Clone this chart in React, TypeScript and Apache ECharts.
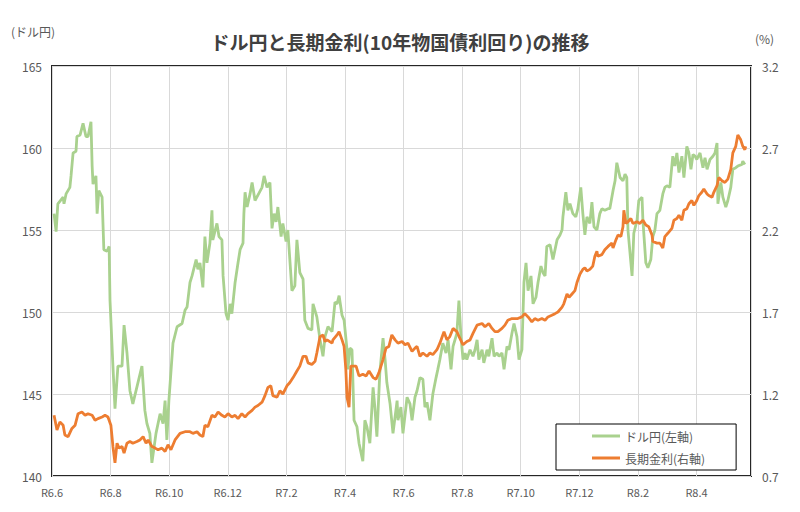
import React, { useEffect, useRef } from "react";
import * as echarts from "echarts";

// x values: months elapsed since R6.6 (June 2024)
const monthLabels = ["R6.6", "R6.8", "R6.10", "R6.12", "R7.2", "R7.4", "R7.6", "R7.8", "R7.10", "R7.12", "R8.2", "R8.4"];
const yenTicks = [140, 145, 150, 155, 160, 165];
const rateTicks = [0.7, 1.2, 1.7, 2.2, 2.7, 3.2];

const usdMonths = [
  0.07, 0.14, 0.2, 0.38, 0.41, 0.48, 0.61, 0.65, 0.72, 0.82, 0.85, 0.96, 1.06, 1.16, 1.23, 1.33, 1.37, 1.4, 1.5, 1.54,
  1.6, 1.71, 1.77, 1.88, 1.95, 1.98, 2.08, 2.15, 2.25, 2.39, 2.46, 2.56, 2.66, 2.76, 3.07, 3.17, 3.24, 3.34, 3.41, 3.55,
  3.69, 3.79, 3.86, 3.92, 3.99, 4.13, 4.27, 4.44, 4.54, 4.61, 4.71, 4.78, 4.92, 4.98, 5.05, 5.15, 5.22, 5.29, 5.39, 5.46,
  5.49, 5.63, 5.7, 5.8, 5.84, 5.94, 6.01, 6.08, 6.14, 6.25, 6.35, 6.42, 6.52, 6.55, 6.59, 6.66, 6.76, 6.83, 6.93, 7.17,
  7.24, 7.34, 7.44, 7.51, 7.58, 7.65, 7.71, 7.82, 7.88, 7.99, 8.05, 8.19, 8.29, 8.36, 8.46, 8.57, 8.63, 8.74, 8.87, 8.91,
  9.04, 9.15, 9.25, 9.32, 9.42, 9.56, 9.66, 9.73, 9.8, 9.9, 9.97, 10.07, 10.1, 10.17, 10.24, 10.31, 10.41, 10.48, 10.61, 10.68,
  10.75, 10.85, 10.96, 11.02, 11.09, 11.19, 11.3, 11.37, 11.43, 11.54, 11.64, 11.78, 11.81, 11.91, 11.98, 12.12, 12.22, 12.29, 12.39, 12.46,
  12.56, 12.66, 12.73, 12.8, 12.9, 13.0, 13.11, 13.17, 13.24, 13.34, 13.45, 13.52, 13.62, 13.69, 13.82, 13.89, 13.96, 14.03, 14.1, 14.16,
  14.27, 14.37, 14.44, 14.51, 14.57, 14.68, 14.74, 14.85, 14.91, 15.02, 15.09, 15.19, 15.26, 15.36, 15.43, 15.53, 15.6, 15.7, 15.77, 15.87,
  15.94, 16.04, 16.11, 16.18, 16.25, 16.35, 16.42, 16.52, 16.59, 16.69, 16.76, 16.83, 16.89, 17.0, 17.1, 17.17, 17.24, 17.34, 17.41, 17.44,
  17.54, 17.61, 17.68, 17.78, 17.88, 17.95, 18.05, 18.12, 18.19, 18.26, 18.36, 18.43, 18.5, 18.6, 18.7, 18.77, 18.87, 18.98, 19.04, 19.15,
  19.22, 19.28, 19.39, 19.49, 19.56, 19.62, 19.66, 19.73, 19.8, 19.86, 19.97, 20.03, 20.14, 20.17, 20.27, 20.34, 20.44, 20.51, 20.58, 20.65,
  20.75, 20.85, 20.92, 20.99, 21.09, 21.19, 21.26, 21.33, 21.4, 21.5, 21.57, 21.67, 21.74, 21.81, 21.88, 21.95, 22.01, 22.12, 22.22, 22.29,
  22.36, 22.46, 22.56, 22.63, 22.7, 22.73, 22.83, 22.9, 23.0, 23.07, 23.17, 23.24, 23.34, 23.41, 23.55, 23.58, 23.65,
];
const usdValues = [
  156.0, 154.9, 156.6, 157.0, 156.6, 157.2, 157.6, 158.3, 159.7, 159.8, 160.7, 160.8, 161.5, 160.7, 160.7, 161.6, 158.9, 157.8, 158.3, 156.0,
  157.4, 157.0, 153.8, 153.7, 154.0, 150.7, 146.7, 144.1, 146.7, 146.7, 149.2, 147.5, 145.2, 144.4, 146.7, 144.0, 143.2, 142.6, 140.8, 142.6,
  143.8, 143.2, 144.6, 142.2, 144.6, 148.1, 149.1, 149.3, 150.1, 150.3, 151.8, 152.2, 153.2, 152.6, 153.0, 151.5, 154.6, 153.0, 154.2, 156.2,
  154.4, 155.4, 154.6, 154.4, 152.2, 149.9, 149.5, 150.5, 149.9, 151.8, 153.0, 153.8, 154.2, 156.0, 157.3, 156.4, 157.2, 157.9, 156.8, 157.6,
  158.3, 157.6, 157.9, 155.1, 156.0, 155.5, 156.4, 154.6, 155.4, 154.3, 155.0, 151.3, 151.6, 154.4, 152.4, 152.0, 149.5, 149.0, 148.9, 150.5,
  149.7, 148.3, 147.3, 148.5, 149.1, 148.8, 150.6, 150.5, 151.0, 149.8, 149.5, 147.7, 146.5, 147.8, 147.7, 143.4, 143.0, 142.0, 140.9, 143.4,
  143.0, 142.0, 145.4, 144.2, 142.4, 146.3, 148.4, 147.1, 145.7, 144.4, 142.6, 144.6, 143.4, 144.2, 142.6, 144.8, 144.4, 143.4, 144.8, 145.2,
  146.0, 145.9, 144.2, 144.5, 143.4, 145.0, 146.0, 146.5, 147.1, 148.1, 147.5, 148.3, 146.5, 147.9, 148.7, 150.7, 148.5, 147.1, 147.5, 147.1,
  147.7, 147.3, 147.7, 148.3, 147.1, 147.7, 146.9, 147.7, 147.3, 148.4, 147.3, 147.5, 147.3, 147.5, 146.5, 147.9, 147.7, 148.7, 149.3, 148.5,
  147.1, 147.7, 151.8, 153.0, 151.3, 152.2, 150.5, 150.9, 151.8, 152.8, 152.4, 152.2, 154.0, 154.1, 153.2, 153.8, 154.4, 154.7, 155.0, 155.8,
  157.3, 156.2, 156.6, 156.0, 155.8, 156.3, 157.6, 156.0, 154.7, 155.8, 155.4, 156.7, 155.2, 155.0, 156.0, 156.3, 156.2, 156.3, 156.3, 157.4,
  158.0, 159.1, 158.2, 158.0, 158.4, 158.2, 155.0, 153.6, 152.2, 154.8, 155.6, 156.8, 157.0, 155.6, 153.0, 152.7, 153.2, 154.6, 155.0, 156.0,
  156.2, 157.2, 157.6, 157.7, 157.6, 159.5, 158.9, 159.7, 158.5, 159.5, 158.2, 160.1, 159.7, 158.7, 159.6, 159.5, 159.3, 159.7, 158.8, 159.4,
  158.7, 159.3, 159.5, 159.7, 160.3, 156.6, 157.9, 157.0, 156.4, 156.8, 157.6, 158.7, 158.8, 158.9, 159.0, 159.2, 159.0,
];

const jgbMonths = [
  0.07, 0.17, 0.27, 0.38, 0.44, 0.55, 0.68, 0.79, 0.89, 1.02, 1.13, 1.23, 1.37, 1.47, 1.57, 1.71, 1.81, 1.91, 2.01, 2.08,
  2.15, 2.22, 2.29, 2.39, 2.46, 2.56, 2.66, 2.76, 2.9, 3.0, 3.11, 3.21, 3.28, 3.41, 3.52, 3.62, 3.75, 3.86, 3.96, 4.06,
  4.2, 4.37, 4.54, 4.71, 4.81, 4.95, 5.05, 5.15, 5.22, 5.32, 5.46, 5.56, 5.67, 5.8, 5.9, 6.01, 6.14, 6.25, 6.35, 6.48,
  6.59, 6.69, 6.83, 6.93, 7.03, 7.17, 7.27, 7.37, 7.47, 7.54, 7.68, 7.78, 7.88, 8.02, 8.12, 8.23, 8.36, 8.46, 8.57, 8.67,
  8.74, 8.87, 8.98, 9.04, 9.15, 9.25, 9.32, 9.39, 9.56, 9.59, 9.73, 9.8, 9.9, 9.97, 10.03, 10.07, 10.14, 10.2, 10.27, 10.38,
  10.48, 10.61, 10.72, 10.82, 10.96, 11.06, 11.16, 11.3, 11.4, 11.5, 11.6, 11.71, 11.81, 11.95, 12.05, 12.15, 12.29, 12.39, 12.46, 12.56,
  12.66, 12.8, 12.9, 13.0, 13.14, 13.24, 13.38, 13.48, 13.58, 13.69, 13.82, 13.92, 14.03, 14.16, 14.27, 14.37, 14.51, 14.68, 14.78, 14.91,
  15.02, 15.12, 15.22, 15.36, 15.46, 15.56, 15.7, 15.8, 15.9, 16.04, 16.14, 16.25, 16.38, 16.48, 16.59, 16.72, 16.83, 16.93, 17.06, 17.17,
  17.27, 17.41, 17.47, 17.58, 17.65, 17.75, 17.85, 17.92, 18.02, 18.12, 18.19, 18.26, 18.36, 18.46, 18.53, 18.6, 18.63, 18.77, 18.87, 18.98,
  19.11, 19.15, 19.25, 19.32, 19.42, 19.49, 19.52, 19.59, 19.66, 19.76, 19.83, 19.97, 20.07, 20.17, 20.27, 20.37, 20.48, 20.51, 20.65, 20.75,
  20.85, 20.92, 21.02, 21.16, 21.23, 21.33, 21.4, 21.5, 21.57, 21.67, 21.74, 21.84, 21.91, 22.01, 22.08, 22.18, 22.25, 22.36, 22.42, 22.53,
  22.59, 22.7, 22.76, 22.87, 22.97, 23.07, 23.17, 23.24, 23.34, 23.41, 23.51, 23.58, 23.65, 23.68,
];
const jgbValues = [
  1.07, 0.98, 1.03, 1.01, 0.95, 0.94, 0.99, 1.01, 1.08, 1.09, 1.07, 1.08, 1.07, 1.04, 1.05, 1.06, 1.07, 1.06, 1.01, 0.88,
  0.78, 0.9, 0.87, 0.88, 0.84, 0.9, 0.91, 0.9, 0.91, 0.92, 0.94, 0.9, 0.92, 0.88, 0.87, 0.86, 0.87, 0.85, 0.89, 0.86,
  0.92, 0.96, 0.97, 0.97, 0.96, 0.97, 0.95, 0.94, 1.01, 1.0, 1.07, 1.06, 1.09, 1.07, 1.06, 1.08, 1.06, 1.07, 1.05, 1.08,
  1.06, 1.08, 1.1, 1.12, 1.13, 1.15, 1.19, 1.24, 1.25, 1.19, 1.18, 1.22, 1.2, 1.25, 1.27, 1.3, 1.34, 1.37, 1.43, 1.43,
  1.39, 1.38, 1.4, 1.45, 1.55, 1.56, 1.52, 1.53, 1.51, 1.53, 1.56, 1.58, 1.53, 1.49, 1.35, 1.18, 1.12, 1.37, 1.37, 1.37,
  1.31, 1.32, 1.31, 1.34, 1.3, 1.29, 1.33, 1.41, 1.48, 1.49, 1.56, 1.53, 1.51, 1.52, 1.5, 1.51, 1.46, 1.48, 1.49, 1.43,
  1.45, 1.43, 1.45, 1.44, 1.47, 1.51, 1.58, 1.53, 1.55, 1.6, 1.58, 1.54, 1.5, 1.52, 1.53, 1.57, 1.62, 1.63, 1.61, 1.63,
  1.6, 1.58, 1.58, 1.6, 1.62, 1.65, 1.66, 1.66, 1.66, 1.67, 1.69, 1.67, 1.64, 1.66, 1.65, 1.66, 1.65, 1.67, 1.68, 1.69,
  1.7, 1.73, 1.75, 1.81, 1.79, 1.81, 1.83, 1.88, 1.93, 1.96, 1.97, 1.95, 1.96, 1.98, 2.04, 2.07, 2.04, 2.05, 2.08, 2.1,
  2.12, 2.09, 2.14, 2.17, 2.16, 2.22, 2.32, 2.24, 2.25, 2.27, 2.24, 2.25, 2.24, 2.26, 2.23, 2.22, 2.17, 2.13, 2.12, 2.12,
  2.09, 2.16, 2.18, 2.21, 2.26, 2.27, 2.29, 2.26, 2.32, 2.33, 2.36, 2.38, 2.35, 2.38, 2.41, 2.43, 2.45, 2.42, 2.41, 2.4,
  2.43, 2.47, 2.52, 2.5, 2.49, 2.51, 2.57, 2.67, 2.71, 2.78, 2.75, 2.71, 2.69, 2.71,
];

const FONT = '"Noto Sans CJK JP", "Noto Sans", sans-serif';

export default function App() {
  const ref = useRef<HTMLDivElement>(null);
  useEffect(() => {
    if (!ref.current) return;
    const chart = echarts.init(ref.current, null, { renderer: "svg" });
    const usdData = usdMonths.map((m, i) => [m, usdValues[i]]);
    const jgbData = jgbMonths.map((m, i) => [m, jgbValues[i]]);
    chart.setOption({
      animation: false,
      backgroundColor: "#fff",
      textStyle: { fontFamily: FONT },
      title: {
        text: "ドル円と長期金利(10年物国債利回り)の推移",
        left: "center",
        top: 27,
        textStyle: { fontSize: 19, fontWeight: "bold", color: "#404040", fontFamily: FONT },
      },
      graphic: [
        { type: "text", left: 11, top: 25, style: { text: "(ドル円)", fontSize: 12, fill: "#595959", fontFamily: FONT } },
        { type: "text", left: 755, top: 32, style: { text: "(%)", fontSize: 12, fill: "#595959", fontFamily: FONT } },
      ],
      grid: {
        left: 52,
        right: 49,
        top: 66,
        bottom: 36,
        show: true,
        borderColor: "#262626",
        borderWidth: 2,
        containLabel: false,
      },
      legend: {
        data: ["ドル円(左軸)", "長期金利(右軸)"],
        orient: "vertical",
        left: 556,
        top: 424,
        backgroundColor: "#fff",
        borderColor: "#000",
        borderWidth: 1,
        padding: [5, 31, 5, 36],
        itemGap: 8,
        itemWidth: 28,
        itemHeight: 3,
        icon: "rect",
        textStyle: { fontSize: 12, color: "#595959", fontFamily: FONT, lineHeight: 14 },
      },
      xAxis: {
        type: "value",
        min: 0,
        max: 23.86,
        interval: 2,
        axisLine: { show: false },
        axisTick: { show: false },
        axisLabel: {
          margin: 10,
          fontSize: 11,
          color: "#595959",
          fontFamily: FONT,
          formatter: (v: number) => {
            const i = Math.round(v / 2);
            return Math.abs(v - i * 2) < 1e-6 && i < monthLabels.length ? monthLabels[i] : "";
          },
        },
        splitLine: { show: true, lineStyle: { color: "#d9d9d9", width: 1 } },
      },
      yAxis: [
        {
          type: "value",
          min: yenTicks[0],
          max: yenTicks[yenTicks.length - 1],
          interval: 5,
          position: "left",
          axisLine: { show: false },
          axisTick: { show: false },
          axisLabel: { margin: 10, fontSize: 12, color: "#595959", fontFamily: FONT },
          splitLine: { show: true, lineStyle: { color: "#d9d9d9", width: 1 } },
        },
        {
          type: "value",
          min: rateTicks[0],
          max: rateTicks[rateTicks.length - 1],
          position: "right",
          axisLine: { show: false },
          axisTick: { show: false },
          splitLine: { show: false },
          axisLabel: {
            margin: 11,
            fontSize: 12,
            color: "#595959",
            fontFamily: FONT,
            customValues: rateTicks,
            formatter: (v: number) => v.toFixed(1),
          },
        },
      ],
      series: [
        {
          name: "ドル円(左軸)",
          type: "line",
          yAxisIndex: 0,
          data: usdData,
          showSymbol: false,
          symbol: "none",
          lineStyle: { width: 2.8, color: "#a9d18e" },
          itemStyle: { color: "#a9d18e" },
        },
        {
          name: "長期金利(右軸)",
          type: "line",
          yAxisIndex: 1,
          data: jgbData,
          showSymbol: false,
          symbol: "none",
          lineStyle: { width: 2.8, color: "#ed7d31" },
          itemStyle: { color: "#ed7d31" },
        },
      ],
    });
    return () => chart.dispose();
  }, []);
  return <div ref={ref} style={{ width: 800, height: 512, position: "absolute", left: 0, top: 0 }} />;
}
